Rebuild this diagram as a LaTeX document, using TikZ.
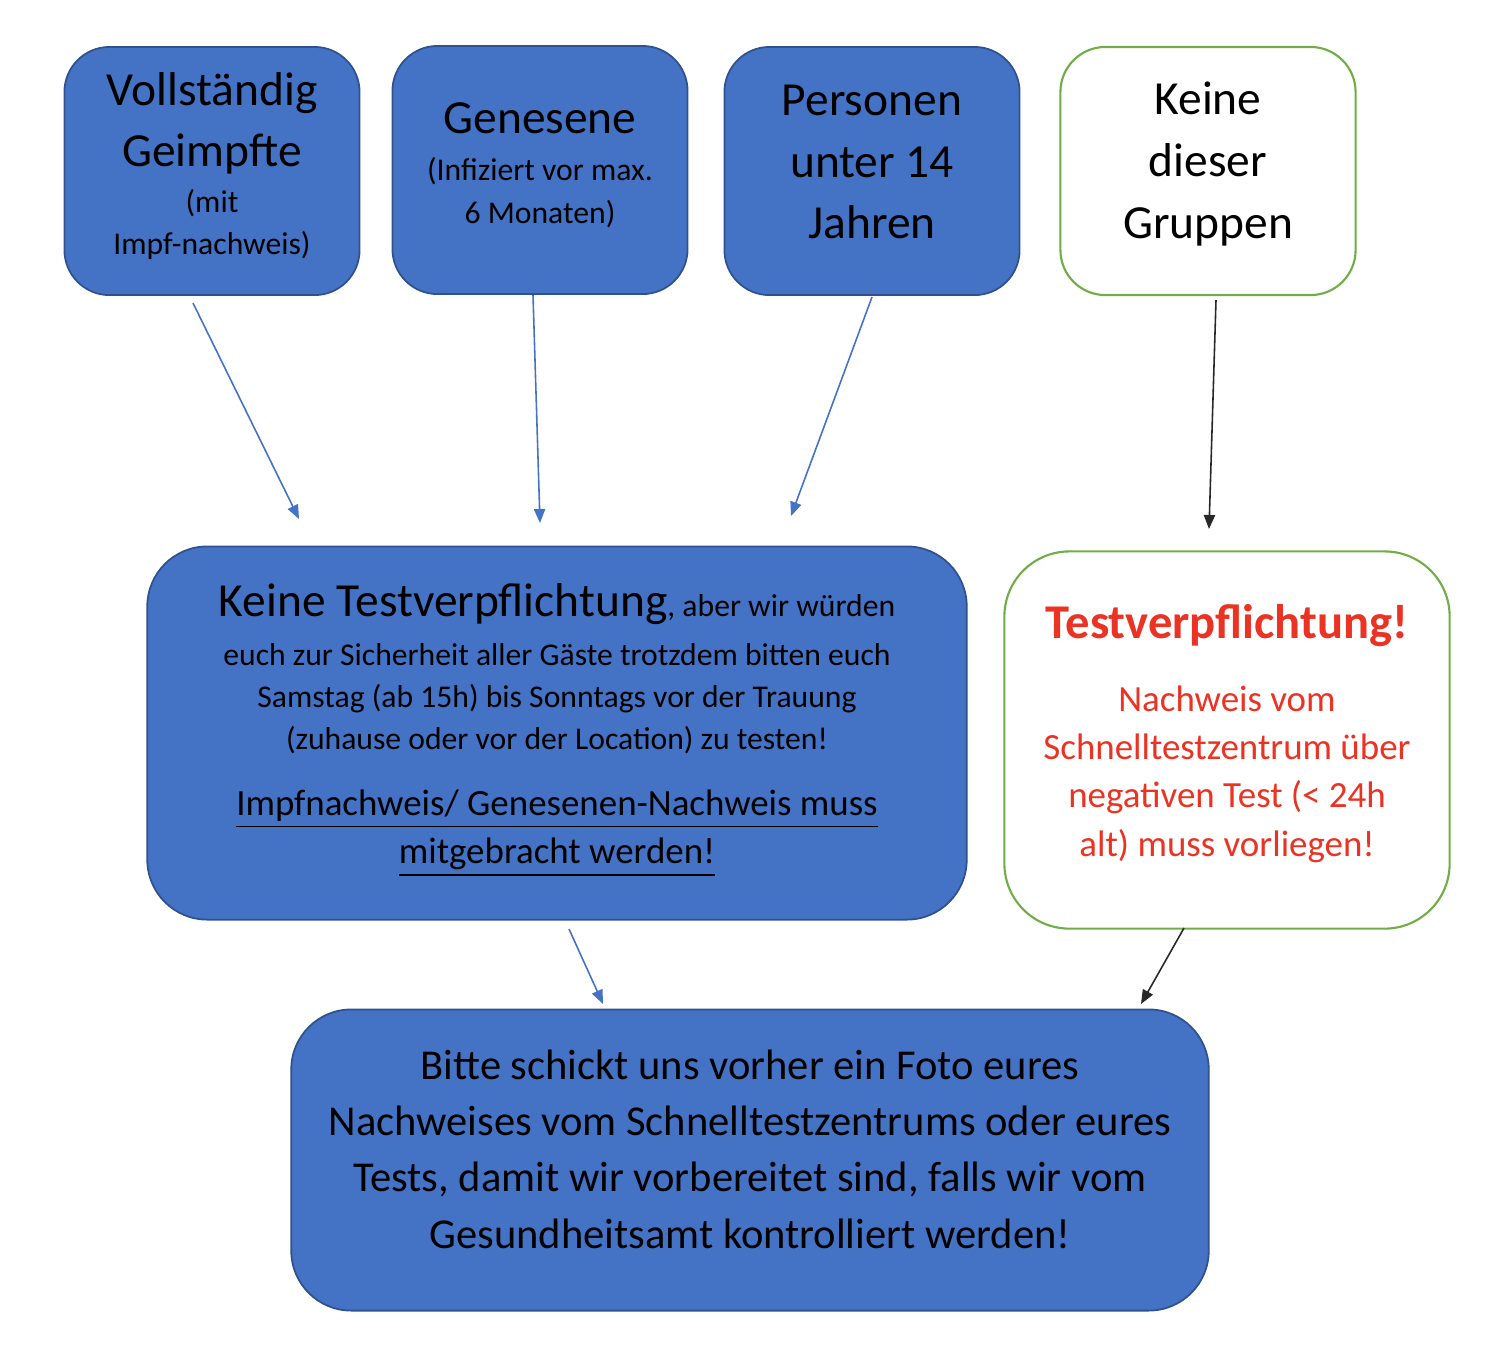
\documentclass[tikz,border=0pt]{standalone}
\usepackage{fontspec}
\setmainfont{Carlito}
\usetikzlibrary{arrows.meta,positioning}
\definecolor{officeblue}{RGB}{68,114,196}
\definecolor{borderblue}{RGB}{47,82,143}
\definecolor{officegreen}{RGB}{112,173,71}
\definecolor{alertred}{RGB}{235,51,36}
\definecolor{arrowgray}{RGB}{40,40,40}
\newcommand{\GroupFont}{\fontsize{13.5}{17.5}\selectfont}
\newcommand{\NoteFont}{\fontsize{9}{12}\selectfont}
\newcommand{\UnderFont}{\fontsize{10.5}{13.7}\selectfont}
\newcommand{\MainFont}{\fontsize{12.1}{16}\selectfont}
% extra room under the last line, lifts the text a little
\newcommand{\LiftBy}[1]{\par\kern#1\hrule height 0pt width 0pt\relax}
\tikzset{
  groupbox/.style={draw=borderblue, fill=officeblue, line width=0.5pt, rounded corners=0.45cm,
    align=flush center, inner sep=0pt, text width=2.85cm, minimum width=2.95cm, minimum height=2.48cm},
  otherbox/.style={groupbox, draw=officegreen, fill=white, line width=0.6pt},
  flowblue/.style={-{Triangle[length=4pt,width=3.2pt]}, draw=officeblue, line width=0.45pt},
  flowblack/.style={-{Triangle[length=4pt,width=3.2pt]}, draw=arrowgray, line width=0.45pt}
}
\begin{document}
\begin{tikzpicture}[x=0.01cm, y=-0.01cm]
\useasboundingbox (0,0) rectangle (1494,1362);

	\node[groupbox, font=\NoteFont] (voll) at (212,171) {\GroupFont Vollständig\\Geimpfte\\[1pt]\NoteFont (mit\\Impf-nachweis)\LiftBy{0.1cm}};
	\node[groupbox, font=\NoteFont] (gen)  at (540,170) {\GroupFont Genesene\\[1.5pt]\NoteFont (Infiziert vor max.\\6 Monaten)\LiftBy{0.1cm}};
	\node[groupbox, font=\GroupFont] (kind) at (872,171) {Personen\\unter 14\\Jahren\LiftBy{0.18cm}};
	\node[otherbox, font=\GroupFont] (kein) at (1208,171) {Keine\\dieser\\Gruppen\LiftBy{0.14cm}};

	\node[groupbox, font=\UnderFont, text width=7.9cm, minimum width=8.19cm, minimum height=3.73cm, rounded corners=0.6cm] (frei) at (557,733)
	{{\GroupFont Keine Testverpflichtung}\NoteFont, aber wir würden\\[2pt]euch zur Sicherheit aller Gäste trotzdem bitten euch\\Samstag (ab 15h) bis Sonntags vor der Trauung\\(zuhause oder vor der Location) zu testen!\\[5pt]\UnderFont\underline{Impfnachweis/ Genesenen-Nachweis muss}\\\underline{mitgebracht werden!}\LiftBy{0.06cm}};
	\node[otherbox, font=\UnderFont, text width=4.3cm, minimum width=4.45cm, minimum height=3.77cm, rounded corners=0.65cm, text=alertred] (pflicht) at (1227,740)
	{{\fontsize{13.8}{16}\selectfont\bfseries Testverpflichtung!}\\[7pt]Nachweis vom\\Schnelltestzentrum über\\negativen Test (< 24h\\alt) muss vorliegen!\LiftBy{0.13cm}};
	\node[groupbox, font=\MainFont, text width=9cm, minimum width=9.17cm, minimum height=3.01cm, rounded corners=0.6cm] (foto) at (750,1160)
	{Bitte schickt uns vorher ein Foto eures\\Nachweises vom Schnelltestzentrums oder eures\\Tests, damit wir vorbereitet sind, falls wir vom\\Gesundheitsamt kontrolliert werden!\LiftBy{0.22cm}};

	% free ends of the connectors
	\coordinate (voll1) at (193,303);
	\coordinate (voll2) at (299,519);
	\coordinate (gen1)  at (533,295);
	\coordinate (gen2)  at (540,523);
	\coordinate (kind1) at (872,297);
	\coordinate (kind2) at (791,516);
	\coordinate (kein1) at (1216,300);
	\coordinate (kein2) at (1209,529);
	\coordinate (frei1) at (569,929);
	\coordinate (frei2) at (603,1004);
	\coordinate (pflicht1) at (1184,928);
	\coordinate (pflicht2) at (1141,1004);

	\draw[flowblue] (voll1) -- (voll2);
	\draw[flowblue] (gen1) -- (gen2);
	\draw[flowblue] (kind1) -- (kind2);
	\draw[flowblack] (kein1) -- (kein2);
	\draw[flowblue] (frei1) -- (frei2);
	\draw[flowblack] (pflicht1) -- (pflicht2);

\end{tikzpicture}
\end{document}
